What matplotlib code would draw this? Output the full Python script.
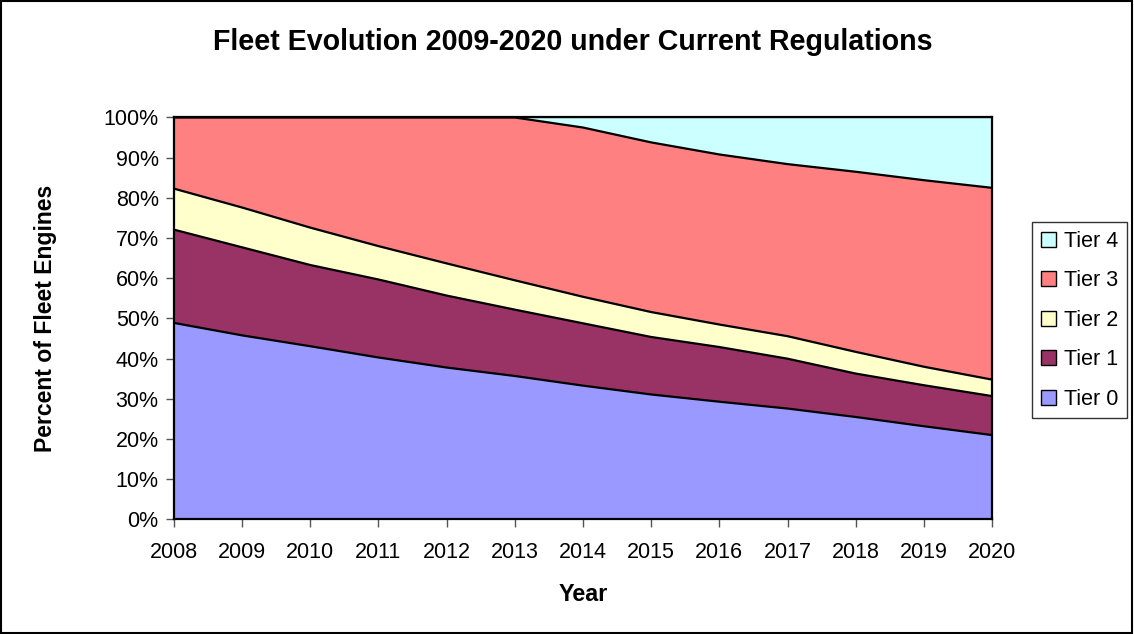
import numpy as np
import matplotlib
matplotlib.use('Agg')
import matplotlib.pyplot as plt
import matplotlib.patches as mpatches
from matplotlib.ticker import PercentFormatter

# 数据: 各年份各 Tier 的发动机占比 (%)
years = np.arange(2008, 2021)
tier0 = [48.9, 45.8, 43.1, 40.3, 37.8, 35.7, 33.3, 31.1, 29.3, 27.6, 25.5, 23.2, 21.0]
tier1 = [23.2, 21.9, 20.2, 19.4, 17.9, 16.5, 15.5, 14.3, 13.6, 12.4, 10.8, 10.2, 9.7]
tier2 = [10.2, 9.9, 9.3, 8.3, 8.0, 7.3, 6.6, 6.2, 5.6, 5.6, 5.4, 4.6, 4.1]
tier3 = [17.7, 22.4, 27.4, 32.0, 36.3, 40.5, 42.1, 42.2, 42.3, 42.8, 44.8, 46.4, 47.7]
tier4 = [0.0, 0.0, 0.0, 0.0, 0.0, 0.0, 2.5, 6.2, 9.2, 11.6, 13.5, 15.6, 17.5]

names = ["Tier 0", "Tier 1", "Tier 2", "Tier 3", "Tier 4"]
colors = ["#9999FF", "#993366", "#FFFFCC", "#FF8080", "#CCFFFF"]

plt.rcParams['font.family'] = ['Liberation Sans', 'DejaVu Sans']

fig = plt.figure(figsize=(11.34, 6.34), dpi=100)
ax = fig.add_axes([0.1534, 0.1806, 0.7214, 0.6341])

series = [tier0, tier1, tier2, tier3, tier4]
bottom = np.zeros(len(years))
handles = []
for vals, name, col in zip(series, names, colors):
    top = bottom + np.array(vals)
    ax.fill_between(years, bottom, top, facecolor=col, edgecolor='none', zorder=1)
    ax.plot(years, top, color='black', lw=1.6, zorder=2)
    handles.append(mpatches.Patch(facecolor=col, edgecolor='black', lw=1.0, label=name))
    bottom = top

ax.set_xlim(2008, 2020)
ax.set_ylim(0, 100)
ax.set_xticks(years)
ax.set_yticks(np.arange(0, 101, 10))
ax.yaxis.set_major_formatter(PercentFormatter(decimals=0))
ax.tick_params(axis='both', labelsize=15.5, length=6, width=1, color='#555555', direction='out')
ax.tick_params(axis='x', pad=10)
ax.tick_params(axis='y', pad=5)
for s in ax.spines.values():
    s.set_linewidth(1.6)
    s.set_color('black')

fig.text(0.505, 0.934, "Fleet Evolution 2009-2020 under Current Regulations",
         ha='center', va='center', fontsize=20.6, fontweight='bold')
fig.text(0.514, 0.062, "Year", ha='center', va='center', fontsize=16.8, fontweight='bold')
fig.text(0.040, 0.498, "Percent of Fleet Engines", ha='center', va='center',
         rotation=90, fontsize=16.6, fontweight='bold')

leg = fig.legend(handles=handles[::-1], loc='center left', bbox_to_anchor=(0.910, 0.495),
                 fontsize=15.5, frameon=True, fancybox=False, borderpad=0.4,
                 handlelength=0.7, handleheight=0.7, handletextpad=0.4,
                 labelspacing=0.86, borderaxespad=0)
leg.get_frame().set_edgecolor('black')
leg.get_frame().set_linewidth(1.0)

# 外框
fig.patches.append(mpatches.Rectangle((0.001, 0.002), 0.997, 0.996, transform=fig.transFigure,
                                      fill=False, edgecolor='black', lw=1.5))

fig.savefig('out.png', dpi=100)
